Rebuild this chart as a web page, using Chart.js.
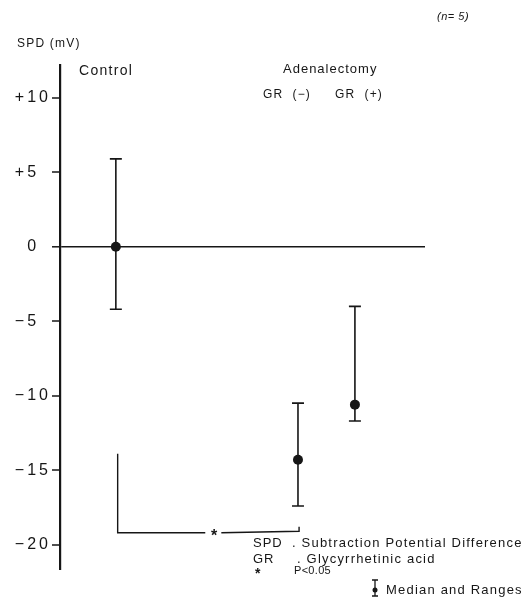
<!DOCTYPE html>
<html>
<head>
<meta charset="utf-8">
<script src="https://cdn.jsdelivr.net/npm/chart.js@4.4.1/dist/chart.umd.min.js"></script>
<style>
  html, body { margin: 0; padding: 0; background: #fff; }
  #wrap { width: 532px; height: 609px; }
</style>
</head>
<body>
<div id="wrap"><canvas id="spd"></canvas></div>
<script>
// SPD (mV), median and ranges, n = 5 per group
const groups = ['Control', 'GR (−)', 'GR (+)'];
const groupX = [1.53, 6.52, 8.08];
const medians = [0, -14.3, -10.6];
const rangeLow = [-4.2, -17.4, -11.7];
const rangeHigh = [5.9, -10.5, -4.0];
const tickValues = [10, 5, 0, -5, -10, -15, -20];

// significance bracket, Control vs GR(-)
const bracketX = [1.58, 6.55];
const bracketTop = -13.9;
const bracketBase = -19.2;
const bracketEnd = -18.8;
const starX = 4.22;

const ink = '#161616';
const fontFam = '"Liberation Sans", Arial, sans-serif';

function drawText(ctx, str, x, y, size, opts) {
    opts = opts || {};
    ctx.save();
    ctx.font = (opts.italic ? 'italic ' : '') + (opts.bold ? 'bold ' : '') + size + 'px ' + fontFam;
    ctx.letterSpacing = (opts.spacing || 0) + 'px';
    ctx.fillStyle = ink;
    ctx.textAlign = opts.align || 'left';
    ctx.textBaseline = 'middle';
    ctx.fillText(str, x, y);
    ctx.restore();
}

// tick text: single digits keep a figure space so they line up like the original
function tickLabel(v) {
    const sign = v > 0 ? '+' : v < 0 ? '−' : '';
    const n = String(Math.abs(v));
    return sign + n + (n.length === 1 ? '\u2007' : '');
}

const annotate = {
    id: 'annotate',
    beforeDraw(chart) {
        // wide lettering of the tick labels
        chart.ctx.letterSpacing = '3px';
    },
    beforeDatasetsDraw(chart) {
        const { ctx, scales: { x, y } } = chart;
        ctx.letterSpacing = '0px';

        // error bars (ranges)
        ctx.save();
        ctx.strokeStyle = ink;
        ctx.lineWidth = 1.6;
        groupX.forEach((gx, i) => {
            const px = x.getPixelForValue(gx);
            const top = y.getPixelForValue(rangeHigh[i]);
            const bot = y.getPixelForValue(rangeLow[i]);
            ctx.beginPath();
            ctx.moveTo(px, top); ctx.lineTo(px, bot);
            ctx.moveTo(px - 6, top); ctx.lineTo(px + 6, top);
            ctx.moveTo(px - 6, bot); ctx.lineTo(px + 6, bot);
            ctx.stroke();
        });
        ctx.restore();
    },
    afterDraw(chart) {
        const { ctx, scales: { x, y } } = chart;

        drawText(ctx, '(n= 5)', 437, 17, 11, { italic: true, spacing: 0.5 });
        drawText(ctx, 'SPD (mV)', 17, 44, 12, { spacing: 1.2 });
        drawText(ctx, 'Control', 79, 71, 14, { spacing: 1.3 });
        drawText(ctx, 'Adenalectomy', 283, 69, 13, { spacing: 1 });
        drawText(ctx, 'GR  (−)', 263, 95, 12, { spacing: 1.2 });
        drawText(ctx, 'GR  (+)', 335, 95, 12, { spacing: 1.2 });

        // asterisk on the bracket
        drawText(ctx, '*', x.getPixelForValue(starX), y.getPixelForValue(bracketBase) + 4, 16, { align: 'center', bold: true });

        // notes
        drawText(ctx, 'SPD', 253, 543, 13, { spacing: 1 });
        drawText(ctx, '. Subtraction Potential Difference', 292, 543, 13, { spacing: 1.2 });
        drawText(ctx, 'GR', 253, 559, 13, { spacing: 1 });
        drawText(ctx, '. Glycyrrhetinic acid', 297, 559, 13, { spacing: 1.2 });
        drawText(ctx, '*', 255, 574, 14, { bold: true });
        drawText(ctx, 'P<0.05', 294, 571, 11, { spacing: 0.3 });

        // median-and-ranges key
        ctx.save();
        ctx.strokeStyle = ink;
        ctx.fillStyle = ink;
        ctx.lineWidth = 1.3;
        ctx.beginPath();
        ctx.moveTo(375, 580); ctx.lineTo(375, 596);
        ctx.moveTo(372, 580); ctx.lineTo(378, 580);
        ctx.moveTo(372, 596); ctx.lineTo(378, 596);
        ctx.stroke();
        ctx.beginPath();
        ctx.arc(375, 590, 2.5, 0, Math.PI * 2);
        ctx.fill();
        ctx.restore();
        drawText(ctx, 'Median and Ranges', 386, 590, 13, { spacing: 1.2 });
    }
};

new Chart(document.getElementById('spd'), {
    type: 'scatter',
    data: {
        datasets: [
            {
                label: 'Median',
                data: groupX.map((gx, i) => ({ x: gx, y: medians[i] })),
                pointRadius: 5,
                pointBackgroundColor: ink,
                pointBorderColor: ink,
                pointBorderWidth: 0,
                showLine: false
            },
            {
                label: 'Bracket left',
                data: [
                    { x: bracketX[0], y: bracketTop },
                    { x: bracketX[0], y: bracketBase },
                    { x: starX - 0.24, y: bracketBase }
                ],
                showLine: true,
                borderColor: ink,
                borderWidth: 1.4,
                pointRadius: 0,
                tension: 0
            },
            {
                label: 'Bracket right',
                data: [
                    { x: starX + 0.2, y: bracketBase },
                    { x: bracketX[1], y: bracketBase + 0.1 },
                    { x: bracketX[1], y: bracketEnd }
                ],
                showLine: true,
                borderColor: ink,
                borderWidth: 1.4,
                pointRadius: 0,
                tension: 0
            }
        ]
    },
    options: {
        responsive: true,
        maintainAspectRatio: false,
        animation: false,
        clip: false,
        layout: { padding: { left: 10, top: 65, right: 107, bottom: 39 } },
        plugins: {
            legend: { display: false },
            tooltip: { enabled: false }
        },
        scales: {
            x: {
                type: 'linear',
                min: 0,
                max: 10,
                display: false
            },
            y: {
                min: -21.7,
                max: 12.2,
                afterBuildTicks: s => { s.ticks = tickValues.map(v => ({ value: v })); },
                afterFit: s => { s.width = 50; },
                border: { display: true, color: ink, width: 2.2 },
                grid: {
                    drawOnChartArea: true,
                    color: c => (c.tick && c.tick.value === 0 ? ink : 'rgba(0,0,0,0)'),
                    lineWidth: c => (c.tick && c.tick.value === 0 ? 1.6 : 0),
                    tickColor: ink,
                    tickLength: 8,
                    tickWidth: 1.5
                },
                ticks: {
                    crossAlign: 'near',
                    padding: 1,
                    color: ink,
                    font: { family: fontFam, size: 16 },
                    callback: v => tickLabel(v)
                }
            }
        }
    },
    plugins: [annotate]
});
</script>
</body>
</html>
